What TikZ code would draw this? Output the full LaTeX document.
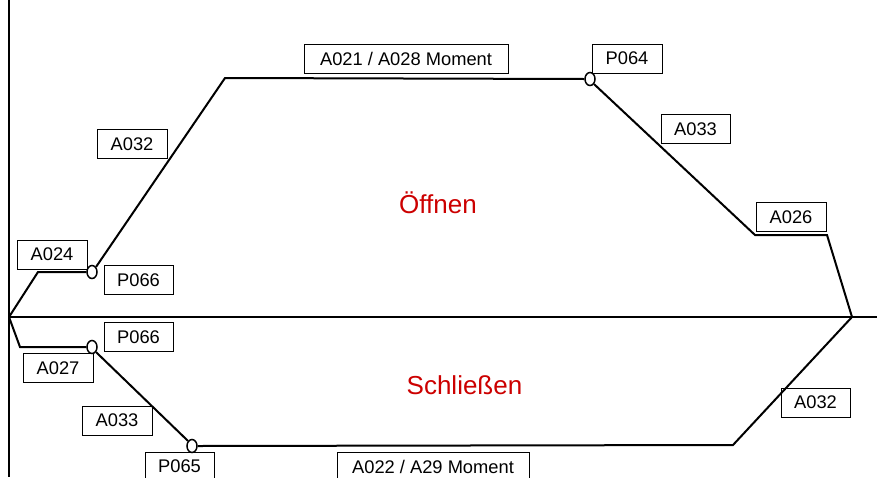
\documentclass[tikz,border=0pt]{standalone}
\usepackage{fontspec}
\setmainfont{Liberation Sans}
\usetikzlibrary{shapes.geometric}
\definecolor{labred}{RGB}{204,0,0}
\begin{document}
\begin{tikzpicture}[x=1pt,y=-1pt,
  lbl/.style={draw=black,line width=0.8pt,fill=none,inner sep=0pt,minimum height=29pt,
    font=\fontsize{18.3}{20}\selectfont},
  curve/.style={line width=2pt,line join=miter},
  axis/.style={line width=2pt},
  knot/.style={ellipse,draw=black,line width=1.5pt,fill=white,minimum width=10pt,minimum height=13pt,inner sep=0pt},
  title/.style={text=labred,font=\fontsize{26}{30}\selectfont}]
\useasboundingbox (0,0) rectangle (877,477);
% axes
\coordinate (top) at (9,0);
\coordinate (bot) at (9,477);
\coordinate (o) at (9,317);
\coordinate (right) at (877,317);
\draw[axis] (top) -- (bot);
\draw[axis] (o) -- (right);
% upper curve points
\coordinate (u1) at (38,272);
\coordinate (u4) at (755,235);
\coordinate (u5) at (827,235);
\coordinate (e) at (852,317);
\coordinate (u2b) at (225,78);
% lower curve points
\coordinate (l1) at (20,347);
\coordinate (l4) at (733,445);
% circles
\node[knot] (c1) at (92,272) {};
\node[knot] (c2) at (590,79) {};
\node[knot] (c3) at (92,347) {};
\node[knot] (c4) at (192,446) {};
% upper curve
\draw[curve] (o) -- (u1) -- (c1.west);
\draw[curve] (c1.north east) -- (u2b) -- (c2.west);
\draw[curve] (c2.south east) -- (u4) -- (u5) -- (e);
% lower curve
\draw[curve] (o) -- (l1) -- (c3.west);
\draw[curve] (c3.south east) -- (c4.north west);
\draw[curve] (c4.east) -- (l4) -- (e);
% labels
\node[lbl,minimum width=204pt] (a021) at (406,59) {A021 / A028 Moment};
\node[lbl,minimum width=70pt] (p064) at (627,58.5) {P064};
\node[lbl,minimum width=69pt] (a033u) at (695.5,129) {A033};
\node[lbl,minimum width=70pt] (a032u) at (132,144) {A032};
\node[lbl,minimum width=70pt] (a024) at (52,254.5) {A024};
\node[lbl,minimum width=69pt] (p066u) at (138.5,280) {P066};
\node[lbl,minimum width=70pt] (a026) at (791,217) {A026};
\node[lbl,minimum width=69pt] (p066l) at (138.5,337) {P066};
\node[lbl,minimum width=70pt] (a027) at (58,368) {A027};
\node[lbl,minimum width=70pt] (a033l) at (117,420.5) {A033};
\node[lbl,minimum width=69pt] (p065) at (179.5,466.5) {P065};
\node[lbl,minimum width=192pt] (a022) at (433,466.5) {A022 / A29 Moment};
\node[lbl,minimum width=69pt] (a032l) at (815.5,402.5) {A032};
% titles
\node[title] (open) at (438,203) {Öffnen};
\node[title] (close) at (464.5,385) {Schließen};
\end{tikzpicture}
\end{document}
